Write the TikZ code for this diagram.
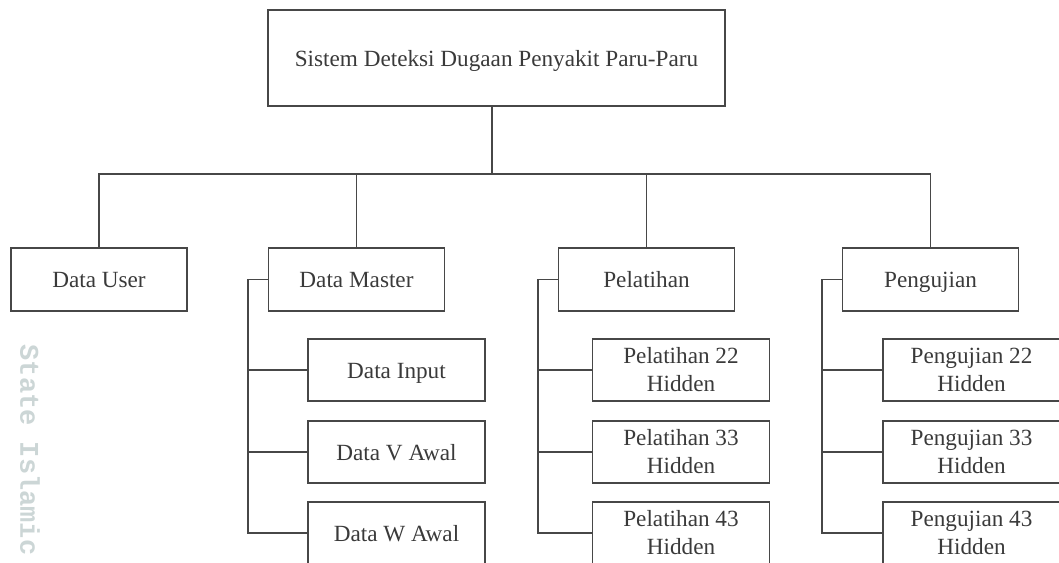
\documentclass[tikz,border=0pt]{standalone}
\usepackage{fontspec}
\setmainfont{Liberation Serif}
\newfontfamily\markfont{Liberation Mono}
\definecolor{linec}{HTML}{474747}
\definecolor{textc}{HTML}{3A3A3A}
\definecolor{markc}{HTML}{CCD6D6}
\begin{document}
\begin{tikzpicture}[x=1pt,y=-1pt,
  box/.style={draw=linec, line width=1.3pt, inner sep=0pt, align=center,
    text=textc, font=\fontsize{23.2}{28}\selectfont},
  oneline/.style={text height=16pt, text depth=0pt},
  topbox/.style={box, oneline, minimum width=176pt, minimum height=63pt},
  subbox/.style={box, minimum width=177pt, minimum height=62pt},
  link/.style={draw=linec, line width=1.3pt}]
\useasboundingbox (0,0) rectangle (1059,562);
\begin{scope}
\clip (0,0) rectangle (1059,562);

% faint side mark
\node[text=markc, font=\markfont\bfseries\fontsize{27}{27}\selectfont, rotate=-90] (mark) at (30,450) {State Islamic};

% root
\node[box, oneline, minimum width=457pt, minimum height=96pt] (root) at (496.5,58) {Sistem Deteksi Dugaan Penyakit Paru-Paru};

% first level
\node[topbox] (user)   at (99,279.5)   {Data User};
\node[topbox] (master) at (356.5,279.5) {Data Master};
\node[topbox] (latih)  at (646.5,279.5) {Pelatihan};
\node[topbox] (uji)    at (930.5,279.5) {Pengujian};

% second level under Data Master
\node[subbox, oneline] (m1) at (396.5,370) {Data Input};
\node[subbox, oneline] (m2) at (396.5,452) {Data V Awal};
\node[subbox, oneline] (m3) at (396.5,533) {Data W Awal};

% second level under Pelatihan
\node[subbox] (l1) at (681,370) {Pelatihan 22\\Hidden};
\node[subbox] (l2) at (681,452) {Pelatihan 33\\Hidden};
\node[subbox] (l3) at (681,533) {Pelatihan 43\\Hidden};

% second level under Pengujian
\node[subbox] (u1) at (971.5,370) {Pengujian 22\\Hidden};
\node[subbox] (u2) at (971.5,452) {Pengujian 33\\Hidden};
\node[subbox] (u3) at (971.5,533) {Pengujian 43\\Hidden};

% bus from the root to the first level
\coordinate (rootdrop) at (492,106);
\coordinate (busmid) at (492,174);
\draw[link] (rootdrop) -- (busmid);
\draw[link] (user.north) |- (busmid);
\draw[link] (master.north) |- (busmid);
\draw[link] (latih.north) |- (busmid);
\draw[link] (uji.north) |- (busmid);

% spines down to the second level
\coordinate (mspine) at (248,279.5);
\draw[link] (master.west) -- (mspine) |- (m3.west);
\draw[link] (mspine |- m1.west) -- (m1.west);
\draw[link] (mspine |- m2.west) -- (m2.west);

\coordinate (lspine) at (538,279.5);
\draw[link] (latih.west) -- (lspine) |- (l3.west);
\draw[link] (lspine |- l1.west) -- (l1.west);
\draw[link] (lspine |- l2.west) -- (l2.west);

\coordinate (uspine) at (822,279.5);
\draw[link] (uji.west) -- (uspine) |- (u3.west);
\draw[link] (uspine |- u1.west) -- (u1.west);
\draw[link] (uspine |- u2.west) -- (u2.west);
\end{scope}
\end{tikzpicture}
\end{document}
